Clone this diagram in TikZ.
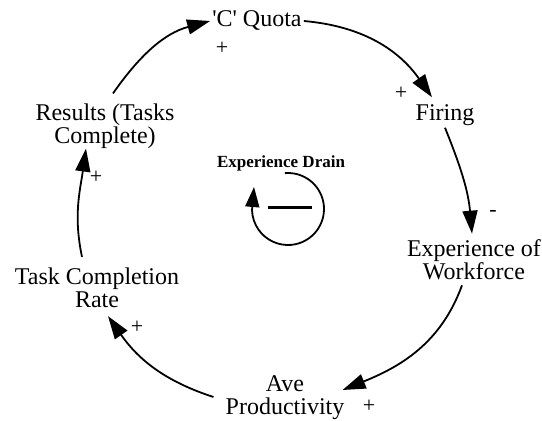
\documentclass[tikz,border=0pt]{standalone}
\usepackage{fontspec}
\setmainfont{Liberation Serif}
\usetikzlibrary{arrows.meta,calc}
\begin{document}
\begin{tikzpicture}[x=1pt,y=1pt,
  lbl/.style={font=\fontsize{24}{23}\selectfont, align=center, inner sep=2pt},
  sgn/.style={font=\fontsize{22}{22}\selectfont, inner sep=0pt},
  bold/.style={font=\fontsize{17}{17}\selectfont\bfseries, inner sep=0pt},
  link/.style={line width=1.8pt, -{Triangle[length=23pt,width=15pt]}},
]
\useasboundingbox (0,0) rectangle (542,421);
\node[lbl] (quota) at (257,400) {\textquotesingle C\textquotesingle{} Quota};
\node[lbl] (firing) at (445,306) {Firing};
\node[lbl] (exper) at (474,161) {Experience of\\Workforce};
\node[lbl] (ave) at (285,23) {Ave\\Productivity};
\node[lbl] (task) at (97,133) {Task Completion\\Rate};
\node[lbl] (results) at (105,295) {Results (Tasks\\Complete)};
\node[bold] (drain) at (281,258) {Experience Drain};

\node[sgn] (s1) at (222,373) {+};
\node[sgn] (s2) at (401,328) {+};
\node[sgn] (s3) at (493,208) {-};
\node[sgn] (s4) at (369,15) {+};
\node[sgn] (s5) at (137,94) {+};
\node[sgn] (s6) at (96,244) {+};

\draw[link] (quota.east) to[out=-5,in=125] ($(firing.north)+(-13,5)$);
\draw[link] (firing.south) to[out=-68,in=95] ($(exper.north)+(-2,4)$);
\draw[link] ($(exper.south)+(-12,-3)$) to[out=-110,in=22] ($(ave.east)+(-4,8)$);
\draw[link] ($(ave.west)+(-10,1)$) to[out=162,in=-55] ($(task.south)+(11,-6)$);
\draw[link] ($(task.north)+(-15,9)$) to[out=102,in=-98] ($(results.south)+(-19,2)$);
\draw[link] ($(results.north)+(8,8)$) to[out=55,in=195] (quota.west);

\draw[line width=1.8pt, -{Triangle[length=20pt,width=14pt]}]
  (288,212) ++(95:36) arc[start angle=95,end angle=-178,radius=36] -- (254,234);
\draw[line width=3pt] (268,213) -- (312,213);
\end{tikzpicture}
\end{document}
